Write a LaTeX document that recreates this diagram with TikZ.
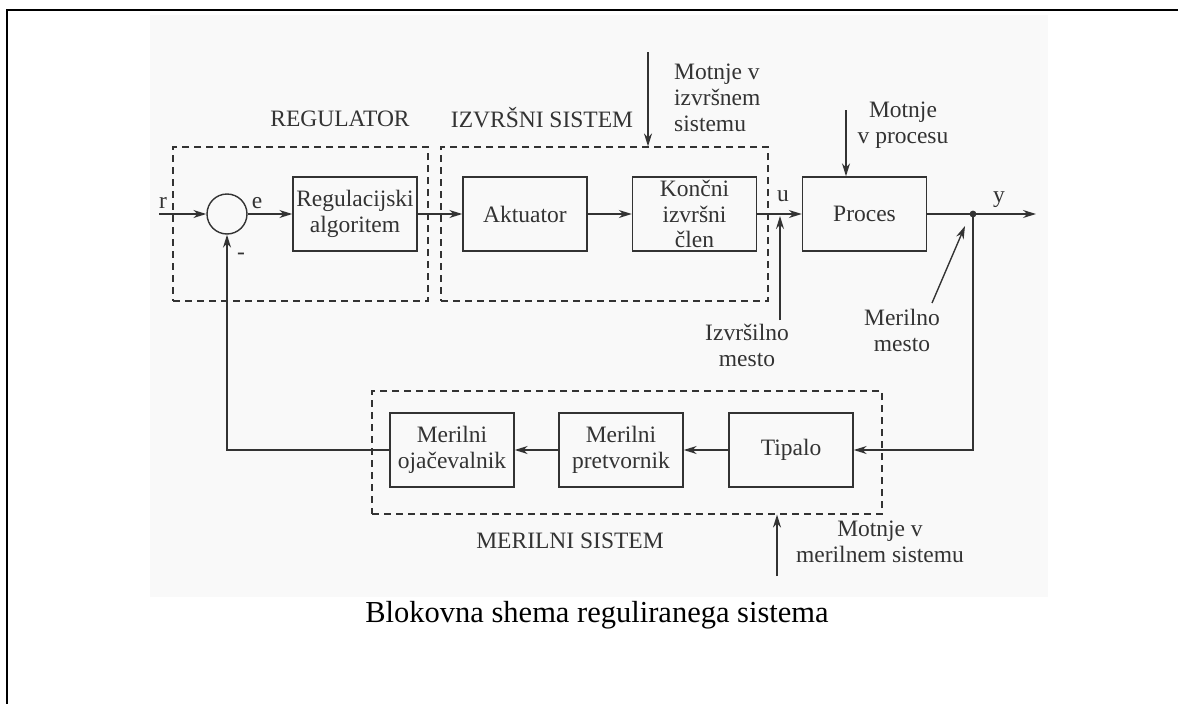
\documentclass[tikz,border=0pt]{standalone}
\usepackage{fontspec}
\setmainfont{Liberation Serif}
\usetikzlibrary{arrows.meta}
\definecolor{ink}{gray}{0.2}
\definecolor{scan}{gray}{0.978}
\begin{document}
\begin{tikzpicture}[x=1pt,y=-1pt,
  every node/.style={text=ink},
  lbl/.style={font=\fontsize{23.5}{26}\selectfont, inner sep=0pt},
  blok/.style={draw=ink, line width=1.4pt, minimum width=124pt, minimum height=74pt,
               align=center, inner sep=0pt, font=\fontsize{23.5}{25.5}\selectfont},
  okvir/.style={draw=ink, line width=1.2pt, dash pattern=on 7pt off 5pt, inner sep=0pt},
  povez/.style={draw=ink, line width=1.4pt},
  pusc/.style={povez, -{Stealth[length=13pt,width=8pt]}}]
\useasboundingbox (0,0) rectangle (1178,704);

% scanned page area
\fill[scan] (150,15) rectangle (1048,597);

% page frame
\draw[line width=2.4pt] (7,704) -- (7,10) -- (1178,10);

% dashed subsystem frames
\node[okvir, minimum width=255pt, minimum height=154pt] (regokv) at (300.5,224) {};
\node[okvir, minimum width=327pt, minimum height=154pt] (izvokv) at (604.5,224) {};
\node[okvir, minimum width=510pt, minimum height=123pt] (merokv) at (627,452.5) {};

\node[lbl, anchor=base] (tregul) at (340,126) {REGULATOR};
\node[lbl, anchor=base] (tizvr) at (542,127) {IZVRŠNI SISTEM};
\node[lbl, anchor=base] (tmeril) at (570,548) {MERILNI SISTEM};

% forward path
\node[draw=ink, line width=1.4pt, circle, minimum size=40pt, inner sep=0pt] (sum) at (227,214) {};
\node[blok] (reg) at (355,214) {Regulacijski\\algoritem};
\node[blok] (akt) at (525,214) {Aktuator};
\node[blok] (kon) at (694.5,214) {Končni\\izvršni\\člen};
\node[blok] (proc) at (864.5,214) {Proces};

% feedback path
\node[blok] (oja) at (452,450) {Merilni\\ojačevalnik};
\node[blok] (pre) at (621,450) {Merilni\\pretvornik};
\node[blok] (tip) at (791,450) {Tipalo};

\coordinate (rin) at (159,214);
\coordinate (junc) at (973,214);
\coordinate (yout) at (1036,214);

\draw[pusc] (rin) -- (sum.west);
\draw[pusc] (sum.east) -- (reg.west);
\draw[pusc] (reg.east) -- (akt.west);
\draw[pusc] (akt.east) -- (kon.west);
\draw[pusc] (kon.east) -- (proc.west);
\draw[povez] (proc.east) -- (junc);
\draw[pusc] (junc) -- (yout);
\fill[ink] (junc) circle (3.4pt);
\draw[pusc] (junc) |- (tip.east);
\draw[pusc] (tip.west) -- (pre.east);
\draw[pusc] (pre.west) -- (oja.east);
\draw[pusc] (oja.west) -| (sum.south);

\node[lbl, anchor=base] (tr) at (163,208) {r};
\node[lbl, anchor=base] (te) at (257,208) {e};
\node[lbl] (tminus) at (241,256) {-};
\node[lbl, anchor=base] (tu) at (783,201) {u};
\node[lbl, anchor=base] (ty) at (999,202) {y};

% disturbances and measuring points
\coordinate (m1) at (648,52);
\draw[pusc] (m1) -- (m1 |- izvokv.north);
\node[lbl, anchor=west, align=left] (tm1) at (674,98) {Motnje v\\izvršnem\\sistemu};

\coordinate (m2) at (846,110);
\draw[pusc] (m2) -- (m2 |- proc.north);
\node[lbl, align=center] (tm2) at (903,125) {Motnje\\v procesu};

\coordinate (iz) at (780,320);
\coordinate (izt) at (780,216);
\draw[pusc] (iz) -- (izt);
\node[lbl, align=center] (tiz) at (747,345) {Izvršilno\\mesto};

\coordinate (mm) at (932,303);
\coordinate (mmt) at (965,226);
\draw[pusc] (mm) -- (mmt);
\node[lbl, align=center] (tmm) at (902,330) {Merilno\\mesto};

\coordinate (m3) at (777,576);
\draw[pusc] (m3) -- (m3 |- merokv.south);
\node[lbl, align=center] (tm3) at (880,542) {Motnje v\\merilnem sistemu};

% caption
\node[anchor=base, text=black, inner sep=0pt, font=\fontsize{30.5}{34}\selectfont] (cap) at (597,622) {Blokovna shema reguliranega sistema};
\end{tikzpicture}
\end{document}
